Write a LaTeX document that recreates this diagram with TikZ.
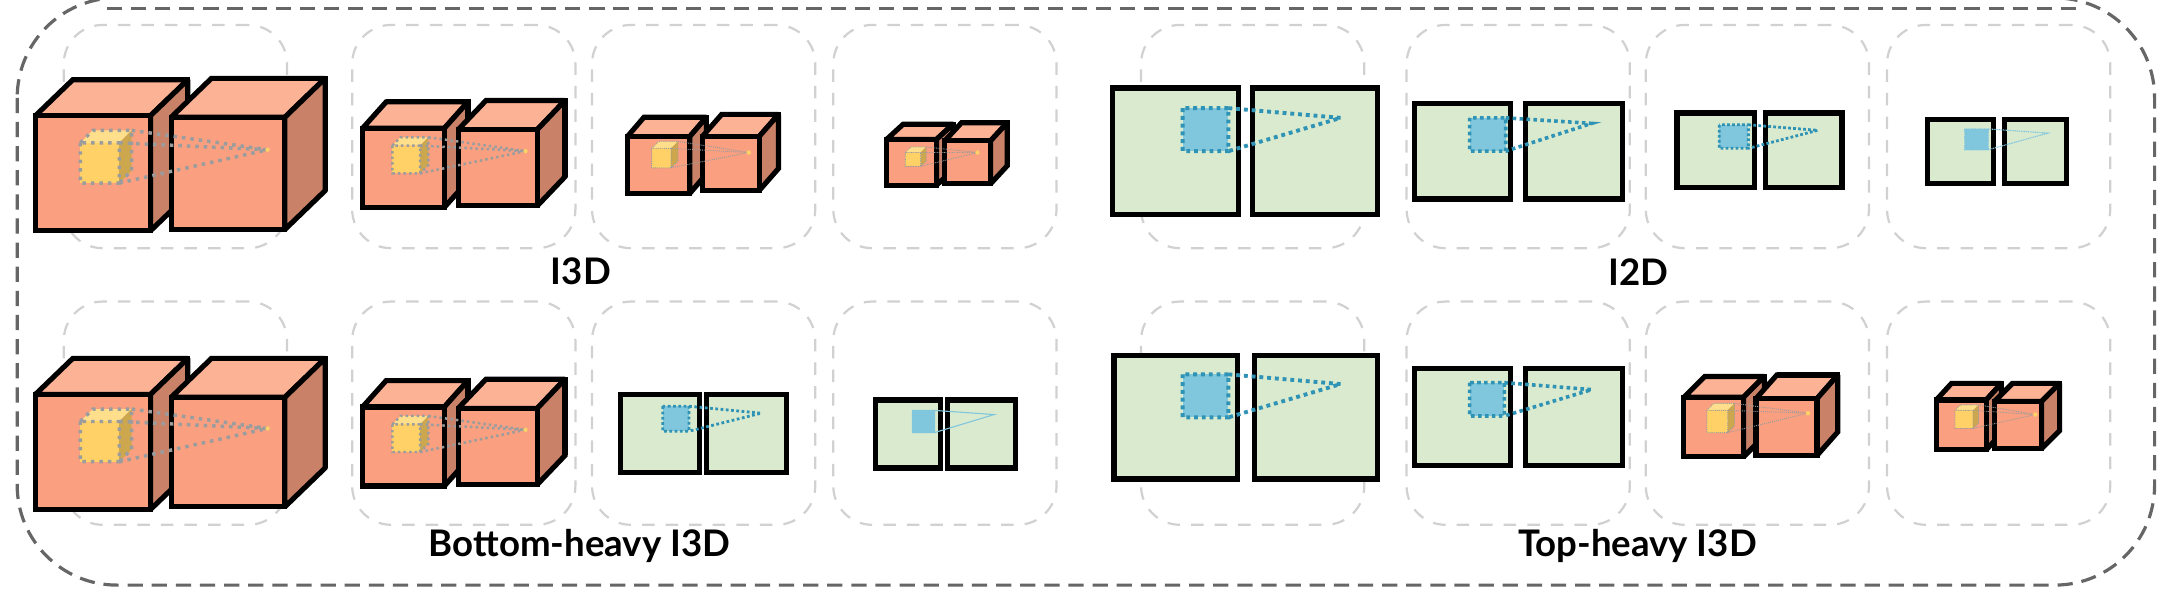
\documentclass[tikz,border=0pt]{standalone}
\usepackage{fontspec}
\setmainfont{Lato}
\usepackage{tikz}
\definecolor{cubefront}{HTML}{FAA080}
\definecolor{cubetop}{HTML}{FBB295}
\definecolor{cubeside}{HTML}{C98267}
\definecolor{winfront}{HTML}{FFD166}
\definecolor{wintop}{HTML}{FFDF8C}
\definecolor{winside}{HTML}{CCA74E}
\definecolor{flatfill}{HTML}{DAEACF}
\definecolor{bluefill}{HTML}{80C6DC}
\definecolor{bluedot}{HTML}{2F93B6}
\definecolor{graydot}{HTML}{9A9C9E}
\tikzset{
	outerline/.style={draw=black!60,line width=1.15pt,dash pattern=on 5.5pt off 3.2pt},
	slotbox/.style={draw=black!18,line width=.8pt,dash pattern=on 4.5pt off 4pt,rounded corners=14pt,minimum width=80.5pt,minimum height=80.5pt,inner sep=0pt},
	blockline/.style={draw=black,line width=1.85pt,miter limit=2},
	dotcone/.style 2 args={line width=#1,dash pattern=on #1 off #2},
	caption/.style={font=\fontsize{13.2}{16}\selectfont\bfseries,inner sep=0pt},
}
\newcommand{\cubeblock}[6]{
	\draw[blockline,fill=cubetop] (#1,#2) -- ++(#5,-#6) -- ++(#3-#1,0) -- (#3,#2) -- cycle;
	\draw[blockline,fill=cubeside] (#3,#2) -- ++(#5,-#6) -- ++(0,#4-#2) -- (#3,#4) -- cycle;
	\draw[blockline] (#1+#5,#2-#6) -- ++(#3-#1,0) -- ++(0,#4-#2);
	\draw[blockline,fill=cubefront] (#1,#2) rectangle (#3,#4);
}
\newcommand{\cubewindow}[9]{
	\fill[wintop] (#1,#2) -- ++(#5,-#5) -- ++(#3-#1,0) -- (#3,#2) -- cycle;
	\fill[winside] (#3,#2) -- ++(#5,-#5) -- ++(0,#4-#2) -- (#3,#4) -- cycle;
	\fill[winfront] (#1,#2) rectangle (#3,#4);
	\draw[draw=graydot,dotcone={#8}{#9}] (#1,#2) rectangle (#3,#4) (#1,#2) -- ++(#5,-#5) -- ++(#3-#1,0) -- ++(0,#4-#2) -- (#3,#4);
	\draw[draw=graydot,dotcone={#8}{#9}] (#3+#5,#2-#5) -- (#6,#7) (#3,#2) -- (#6,#7) (#3,#4) -- (#6,#7);
	\fill[winfront] (#6,#7) circle (1.6);
}
\newcommand{\flatwindow}[9]{
	\fill[bluefill] (#1,#2) rectangle (#3,#4);
	\draw[draw=#9,dotcone={#7}{#8}] (#1,#2) rectangle (#3,#4) (#3,#2) -- (#5,#6) -- (#3,#4);
}
\begin{document}
\begin{tikzpicture}[x=.5pt,y=-.5pt]
	\useasboundingbox (0,0) rectangle (1568,434.2);
	\begin{scope}
	\clip (0,0) rectangle (1568,434.2);
	\draw[outerline,rounded corners=36pt] (12.4,-1.5) rectangle (1554,422);
	\draw[outerline] (77,6) -- (1498,6);
	\end{scope}
	% dashed slots
	\foreach \x [count=\i] in {126.5,334.5,507.5,681.5,903.5,1095,1267.5,1441.5} {
		\node[slotbox] (slottop\i) at (\x,98.5) {};
		\node[slotbox] (slotbot\i) at (\x,298) {};
	}
	% 3d blocks
	\foreach \xa/\ya/\xb/\yb/\dx/\dy in {
		25.5/83.5/108.5/166.5/27/26, 123.5/84.5/205.5/165.5/29/28,
		261.5/92.5/320.5/149.5/17/19, 330.5/93.5/387.5/148.5/20/21,
		452.5/98.5/497.5/139.5/12/14, 506.5/98.5/547.5/137.5/14/16,
		639.5/100.5/675.5/133.5/12/11, 681.5/101.5/714.5/132.5/12/13,
		25.5/284.5/108.5/367.5/27/26, 123.5/286.5/205.5/365.5/29/28,
		261.5/293.5/320.5/350.5/17/19, 330.5/294.5/387.5/349.5/20/21,
		1214.5/286.5/1257.5/329.5/15/15, 1266.5/287.5/1310.5/328.5/15/17,
		1396.5/288.5/1432.5/324.5/11/12, 1438.5/289.5/1472.5/323.5/13/13}
		\cubeblock{\xa}{\ya}{\xb}{\yb}{\dx}{\dy};
	% 2d blocks
	\foreach \xa/\ya/\xb/\yb in {
		802.5/63.5/893.5/154.5, 903.5/63.5/993.5/154.5,
		1020.5/74.5/1089.5/143.5, 1100.5/74.5/1170.5/143.5,
		1209.5/81.5/1265.5/135.5, 1273.5/81.5/1328.5/135.5,
		1390.5/86.5/1437.5/132.5, 1445.5/86.5/1490.5/132.5,
		447.5/284.5/504.5/340.5, 509.5/284.5/567.5/340.5,
		631.5/288.5/678.5/337.5, 683.5/288.5/732.5/337.5,
		803.5/256.5/892.5/345.5, 904.5/256.5/993.5/345.5,
		1020.5/265.5/1089.5/335.5, 1100.5/265.5/1170.5/335.5}
		\draw[blockline,fill=flatfill] (\xa,\ya) rectangle (\xb,\yb);
	% receptive fields
	\cubewindow{58}{103}{86}{132}{9}{193}{108}{1.25pt}{1.8pt}
	\cubewindow{283}{105}{303}{125}{6}{379}{109}{.9pt}{1.1pt}
	\cubewindow{470}{107}{484}{121}{5}{540}{110}{.35pt}{.4pt}
	\cubewindow{653}{110}{664}{120}{4}{705}{110}{.3pt}{.3pt}
	\cubewindow{58}{304}{86}{333}{9}{193}{309}{1.25pt}{1.8pt}
	\cubewindow{283}{306}{303}{326}{6}{379}{310}{.9pt}{1.1pt}
	\cubewindow{1231}{296}{1246}{312}{5}{1304}{298}{.35pt}{.4pt}
	\cubewindow{1410}{296}{1423}{309}{4}{1468}{299}{.3pt}{.3pt}
	\flatwindow{853}{78}{886}{109}{967}{85}{1.4pt}{1.4pt}{bluedot}
	\flatwindow{1060}{85}{1086}{109}{1148}{89}{1.3pt}{1.2pt}{bluedot}
	\flatwindow{1240}{90}{1261}{107}{1311}{94}{1pt}{.8pt}{bluedot}
	\flatwindow{1417}{93}{1434}{108}{1477}{96}{.4pt}{.25pt}{bluefill}
	\flatwindow{478}{293}{497}{311}{549}{298}{1pt}{.9pt}{bluedot}
	\flatwindow{658}{296}{674}{312}{717}{299}{.4pt}{0pt}{bluefill}
	\flatwindow{853}{270}{886}{301}{967}{277}{1.4pt}{1.4pt}{bluedot}
	\flatwindow{1060}{276}{1085}{300}{1148}{281}{1.3pt}{1.2pt}{bluedot}
	% captions
	\node[caption] (capa) at (419,196) {I3D};
	\node[caption] (capb) at (1182,196) {I2D};
	\node[caption] (capc) at (418,394) {Bottom-heavy I3D};
	\node[caption] (capd) at (1181,394) {Top-heavy I3D};
\end{tikzpicture}
\end{document}
